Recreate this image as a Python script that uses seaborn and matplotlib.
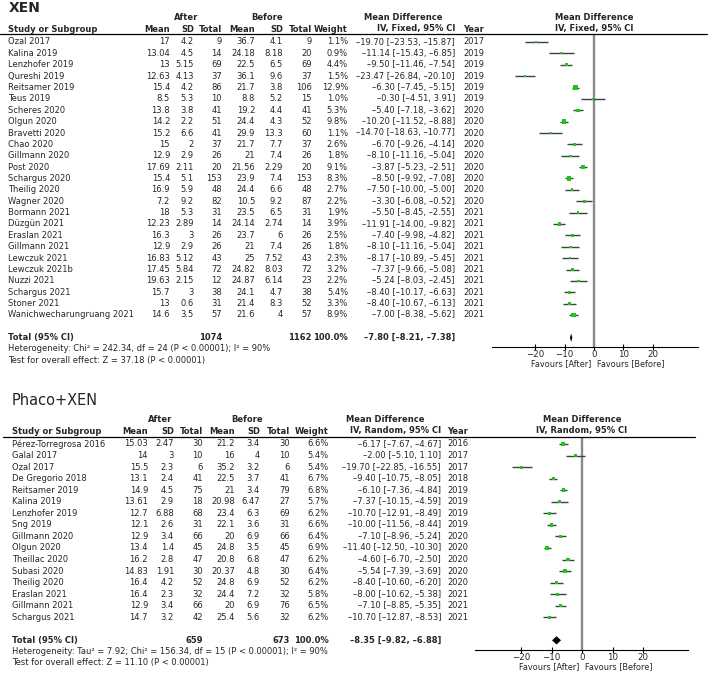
"""
Forest plots: IOP after vs before XEN implantation (XEN alone, Phaco+XEN).
Saves out.png (708x674 px).
"""

import numpy as np
import pandas as pd
import matplotlib
matplotlib.use("Agg")
import matplotlib.pyplot as plt
import matplotlib.transforms as mtransforms
from matplotlib.lines import Line2D
import seaborn as sns

W_PX, H_PX = 708, 674

# -- colours / fonts -----------------------------------------------------------
C_GREEN = "#1fc41f"
C_CI    = "#404040"
C_ZERO  = "#8a8a8a"
FS      = 6.0

sns.set_style("white")
plt.rcParams["font.family"] = ["DejaVu Sans"]

TICKS = [-20, -10, 0, 10, 20]

# -- XEN data -----------------------------------------------------------------
xen_study = ["Ozal 2017", "Kalina 2019", "Lenzhofer 2019", "Qureshi 2019", "Reitsamer 2019",
             "Teus 2019", "Scheres 2020", "Olgun 2020", "Bravetti 2020", "Chao 2020",
             "Gillmann 2020", "Post 2020", "Schargus 2020", "Theilig 2020", "Wagner 2020",
             "Bormann 2021", "Düzgün 2021", "Eraslan 2021", "Gillmann 2021", "Lewczuk 2021",
             "Lewczuk 2021b", "Nuzzi 2021", "Schargus 2021", "Stoner 2021",
             "Wanichwecharungruang 2021"]
xen_after_mean = [17, 13.04, 13, 12.63, 15.4, 8.5, 13.8, 14.2, 15.2, 15, 12.9, 17.69, 15.4,
                  16.9, 7.2, 18, 12.23, 16.3, 12.9, 16.83, 17.45, 19.63, 15.7, 13, 14.6]
xen_after_sd = [4.2, 4.5, 5.15, 4.13, 4.2, 5.3, 3.8, 2.2, 6.6, 2, 2.9, 2.11, 5.1,
                5.9, 9.2, 5.3, 2.89, 3, 2.9, 5.12, 5.84, 2.15, 3, 0.6, 3.5]
xen_after_n = [9, 14, 69, 37, 86, 10, 41, 51, 41, 37, 26, 20, 153, 48, 82, 31, 14, 26, 26,
               43, 72, 12, 38, 31, 57]
xen_before_mean = [36.7, 24.18, 22.5, 36.1, 21.7, 8.8, 19.2, 24.4, 29.9, 21.7, 21, 21.56, 23.9,
                   24.4, 10.5, 23.5, 24.14, 23.7, 21, 25, 24.82, 24.87, 24.1, 21.4, 21.6]
xen_before_sd = [4.1, 8.18, 6.5, 9.6, 3.8, 5.2, 4.4, 4.3, 13.3, 7.7, 7.4, 2.29, 7.4,
                 6.6, 9.2, 6.5, 2.74, 6, 7.4, 7.52, 8.03, 6.14, 4.7, 8.3, 4]
xen_before_n = [9, 20, 69, 37, 106, 15, 41, 52, 60, 37, 26, 20, 153, 48, 87, 31, 14, 26, 26,
                43, 72, 23, 38, 52, 57]
xen_weight = [1.1, 0.9, 4.4, 1.5, 12.9, 1.0, 5.3, 9.8, 1.1, 2.6, 1.8, 9.1, 8.3, 2.7, 2.2,
              1.9, 3.9, 2.5, 1.8, 2.3, 3.2, 2.2, 5.4, 3.3, 8.9]
xen_md = [-19.70, -11.14, -9.50, -23.47, -6.30, -0.30, -5.40, -10.20, -14.70, -6.70, -8.10,
          -3.87, -8.50, -7.50, -3.30, -5.50, -11.91, -7.40, -8.10, -8.17, -7.37, -5.24,
          -8.40, -8.40, -7.00]
xen_lo = [-23.53, -15.43, -11.46, -26.84, -7.45, -4.51, -7.18, -11.52, -18.63, -9.26, -11.16,
          -5.23, -9.92, -10.00, -6.08, -8.45, -14.00, -9.98, -11.16, -10.89, -9.66, -8.03,
          -10.17, -10.67, -8.38]
xen_hi = [-15.87, -6.85, -7.54, -20.10, -5.15, 3.91, -3.62, -8.88, -10.77, -4.14, -5.04,
          -2.51, -7.08, -5.00, -0.52, -2.55, -9.82, -4.82, -5.04, -5.45, -5.08, -2.45,
          -6.63, -6.13, -5.62]
xen_year = [2017, 2019, 2019, 2019, 2019, 2019, 2020, 2020, 2020, 2020, 2020, 2020, 2020,
            2020, 2020, 2021, 2021, 2021, 2021, 2021, 2021, 2021, 2021, 2021, 2021]
xen_total = {"n1": 1074, "n2": 1162, "md": -7.80, "lo": -8.21, "hi": -7.38}
xen_het = "Heterogeneity: Chi² = 242.34, df = 24 (P < 0.00001); I² = 90%"
xen_test = "Test for overall effect: Z = 37.18 (P < 0.00001)"

# -- Phaco+XEN data -----------------------------------------------------------
phx_study = ["Pérez-Torregrosa 2016", "Galal 2017", "Ozal 2017", "De Gregorio 2018",
             "Reitsamer 2019", "Kalina 2019", "Lenzhofer 2019", "Sng 2019", "Gillmann 2020",
             "Olgun 2020", "Theillac 2020", "Subasi 2020", "Theilig 2020", "Eraslan 2021",
             "Gillmann 2021", "Schargus 2021"]
phx_after_mean = [15.03, 14, 15.5, 13.1, 14.9, 13.61, 12.7, 12.1, 12.9, 13.4, 16.2, 14.83,
                  16.4, 16.4, 12.9, 14.7]
phx_after_sd = [2.47, 3, 2.3, 2.4, 4.5, 2.9, 6.88, 2.6, 3.4, 1.4, 2.8, 1.91, 4.2, 2.3, 3.4, 3.2]
phx_after_n = [30, 10, 6, 41, 75, 18, 68, 31, 66, 45, 47, 30, 52, 32, 66, 42]
phx_before_mean = [21.2, 16, 35.2, 22.5, 21, 20.98, 23.4, 22.1, 20, 24.8, 20.8, 20.37,
                   24.8, 24.4, 20, 25.4]
phx_before_sd = [3.4, 4, 3.2, 3.7, 3.4, 6.47, 6.3, 3.6, 6.9, 3.5, 6.8, 4.8, 6.9, 7.2, 6.9, 5.6]
phx_before_n = [30, 10, 6, 41, 79, 27, 69, 31, 66, 45, 47, 30, 52, 32, 76, 32]
phx_weight = [6.6, 5.4, 5.4, 6.7, 6.8, 5.7, 6.2, 6.6, 6.4, 6.9, 6.2, 6.4, 6.2, 5.8, 6.5, 6.2]
phx_md = [-6.17, -2.00, -19.70, -9.40, -6.10, -7.37, -10.70, -10.00, -7.10, -11.40, -4.60,
          -5.54, -8.40, -8.00, -7.10, -10.70]
phx_lo = [-7.67, -5.10, -22.85, -10.75, -7.36, -10.15, -12.91, -11.56, -8.96, -12.50, -6.70,
          -7.39, -10.60, -10.62, -8.85, -12.87]
phx_hi = [-4.67, 1.10, -16.55, -8.05, -4.84, -4.59, -8.49, -8.44, -5.24, -10.30, -2.50,
          -3.69, -6.20, -5.38, -5.35, -8.53]
phx_year = [2016, 2017, 2017, 2018, 2019, 2019, 2019, 2019, 2020, 2020, 2020, 2020, 2020,
            2021, 2021, 2021]
phx_total = {"n1": 659, "n2": 673, "md": -8.35, "lo": -9.82, "hi": -6.88}
phx_het = "Heterogeneity: Tau² = 7.92; Chi² = 156.34, df = 15 (P < 0.00001); I² = 90%"
phx_test = "Test for overall effect: Z = 11.10 (P < 0.00001)"


# -----------------------------------------------------------------------------
def fx(px):
    return px / W_PX


def fy(py):
    return 1 - py / H_PX


def fmt_md(m, lo, hi):
    return f"{m:.2f} [{lo:.2f}, {hi:.2f}]".replace("-", "\u2013")


def build_df(study, m1, s1, n1, m2, s2, n2, w, md, lo, hi, yr):
    return pd.DataFrame({"study": study, "m1": m1, "s1": s1, "n1": n1, "m2": m2, "s2": s2,
                         "n2": n2, "weight": w, "md": md, "lo": lo, "hi": hi, "year": yr})


# -----------------------------------------------------------------------------
def draw_panel(fig, df, total, p):
    left, top, right, bottom = p["box"]
    ax = fig.add_axes([fx(left), fy(bottom), (right - left) / W_PX, (bottom - top) / H_PX])
    n = len(df)
    df = df.assign(row=np.arange(n))

    # forest marks
    ax.axvline(0, color=C_ZERO, lw=1.7, zorder=1)
    ax.hlines(df["row"], df["lo"], df["hi"], color=C_CI, lw=1.0, zorder=2)
    sns.scatterplot(data=df, x="md", y="row", size="weight", sizes=p["sizes"],
                    size_norm=(df["weight"].min(), df["weight"].max()),
                    marker="s", color=C_GREEN, linewidth=0, legend=False, ax=ax, zorder=3)
    t_row = n + 1
    h = 0.36
    ax.fill([total["lo"], total["md"], total["hi"], total["md"]],
            [t_row, t_row - h, t_row, t_row + h], color="black", lw=0, zorder=4)

    ax.set_xlim((left - p["zero"]) / p["scale"], (right - p["zero"]) / p["scale"])
    ax.set_ylim((bottom - p["row0"]) / p["step"], (top - p["row0"]) / p["step"])
    ax.set_xlabel("")
    ax.set_ylabel("")
    ax.set_xticks(TICKS)
    ax.set_yticks([])
    sns.despine(ax=ax, left=True)
    ax.spines["bottom"].set_color("black")
    ax.spines["bottom"].set_linewidth(0.8)
    ax.tick_params(axis="x", bottom=True, direction="inout", length=4, width=0.8,
                   color="black", labelsize=6.2, pad=0.3)
    ax.set_facecolor("none")

    for x, s, ha in [(-0.9, "Favours [After]", "right"), (0.9, "Favours [Before]", "left")]:
        ax.annotate(s, xy=(x, 0), xycoords=("data", "axes fraction"), xytext=(0, -12.3),
                    textcoords="offset points", ha=ha, va="center", fontsize=5.9)

    # header line across table + forest
    fig.add_artist(Line2D([fx(p["line_x"][0]), fx(p["line_x"][1])], [fy(top), fy(top)],
                          transform=fig.transFigure, color="black", lw=0.9))

    # titles and column headers
    c = p["cols"]
    fig.text(fx(p["title_xy"][0]), fy(p["title_xy"][1]), p["title"], ha="left", va="center",
             fontsize=p["title_fs"], fontweight=p["title_fw"])
    y1, y2 = p["hdr"]
    bold = dict(fontsize=FS, fontweight="bold", va="center")
    fig.text(fx(p["after_x"]), fy(y1), "After", ha="center", **bold)
    fig.text(fx(p["before_x"]), fy(y1), "Before", ha="center", **bold)
    fig.text(fx(p["mdhdr_x"]), fy(y1), "Mean Difference", ha="center", **bold)
    fig.text(fx(p["zero"]), fy(y1), "Mean Difference", ha="center", **bold)
    fig.text(fx(p["zero"]), fy(y2), p["method"], ha="center", **bold)
    fig.text(fx(c["study"]), fy(y2), "Study or Subgroup", ha="left", **bold)
    for key, lab in [("m1", "Mean"), ("s1", "SD"), ("n1", "Total"), ("m2", "Mean"),
                     ("s2", "SD"), ("n2", "Total"), ("w", "Weight"), ("md", p["method"])]:
        fig.text(fx(c[key]), fy(y2), lab, ha="right", **bold)
    fig.text(fx(c["year"]), fy(y2), "Year", ha="left", **bold)

    # study rows, aligned to the forest rows
    trans = mtransforms.blended_transform_factory(fig.transFigure, ax.transData)
    reg = dict(fontsize=FS, va="center", transform=trans)
    for r in df.itertuples():
        fig.text(fx(c["study"]), r.row, r.study, ha="left", **reg)
        fig.text(fx(c["m1"]), r.row, f"{r.m1:g}", ha="right", **reg)
        fig.text(fx(c["s1"]), r.row, f"{r.s1:g}", ha="right", **reg)
        fig.text(fx(c["n1"]), r.row, f"{r.n1}", ha="right", **reg)
        fig.text(fx(c["m2"]), r.row, f"{r.m2:g}", ha="right", **reg)
        fig.text(fx(c["s2"]), r.row, f"{r.s2:g}", ha="right", **reg)
        fig.text(fx(c["n2"]), r.row, f"{r.n2}", ha="right", **reg)
        fig.text(fx(c["w"]), r.row, f"{r.weight:.1f}%", ha="right", **reg)
        fig.text(fx(c["md"]), r.row, fmt_md(r.md, r.lo, r.hi), ha="right", **reg)
        fig.text(fx(c["year"]), r.row, f"{r.year}", ha="left", **reg)

    # total row
    regb = dict(reg, fontweight="bold")
    fig.text(fx(c["study"]), t_row, "Total (95% CI)", ha="left", **regb)
    fig.text(fx(c["n1"]), t_row, f"{total['n1']}", ha="right", **regb)
    fig.text(fx(c["n2"]), t_row, f"{total['n2']}", ha="right", **regb)
    fig.text(fx(c["w"]), t_row, "100.0%", ha="right", **regb)
    fig.text(fx(c["md"]), t_row, fmt_md(total["md"], total["lo"], total["hi"]), ha="right", **regb)

    fig.text(fx(c["study"]), fy(p["foot"][0]), p["het"], ha="left", va="center", fontsize=FS)
    fig.text(fx(c["study"]), fy(p["foot"][1]), p["test"], ha="left", va="center", fontsize=FS)
    return ax


# -----------------------------------------------------------------------------
XEN_LAYOUT = {
    "box": (492, 34, 698, 347), "zero": 594, "scale": 2.93, "row0": 42, "step": 11.375,
    "sizes": (2.5, 12), "line_x": (0, 707),
    "title": "XEN", "title_xy": (9, 8.5), "title_fs": 10, "title_fw": "bold",
    "hdr": (17, 29), "after_x": 186, "before_x": 267, "mdhdr_x": 403,
    "method": "IV, Fixed, 95% CI",
    "cols": {"study": 8, "m1": 170, "s1": 194, "n1": 222, "m2": 255, "s2": 283,
             "n2": 312, "w": 348, "md": 455, "year": 463},
    "het": xen_het, "test": xen_test, "foot": (349, 360),
}

PHX_LAYOUT = {
    "box": (475, 437, 688, 650), "zero": 582, "scale": 3.05, "row0": 444, "step": 11.55,
    "sizes": (4.5, 6.5), "line_x": (3, 695),
    "title": "Phaco+XEN", "title_xy": (12, 400.5), "title_fs": 10.5, "title_fw": "normal",
    "hdr": (420, 431), "after_x": 160, "before_x": 247, "mdhdr_x": 385,
    "method": "IV, Random, 95% CI",
    "cols": {"study": 12, "m1": 148, "s1": 174, "n1": 203, "m2": 235, "s2": 260,
             "n2": 290, "w": 329, "md": 441, "year": 447},
    "het": phx_het, "test": phx_test, "foot": (652, 663),
}


def main():
    fig = plt.figure(figsize=(W_PX / 100, H_PX / 100), dpi=100)
    fig.patch.set_facecolor("white")

    xen_df = build_df(xen_study, xen_after_mean, xen_after_sd, xen_after_n, xen_before_mean,
                      xen_before_sd, xen_before_n, xen_weight, xen_md, xen_lo, xen_hi, xen_year)
    phx_df = build_df(phx_study, phx_after_mean, phx_after_sd, phx_after_n, phx_before_mean,
                      phx_before_sd, phx_before_n, phx_weight, phx_md, phx_lo, phx_hi, phx_year)

    draw_panel(fig, xen_df, xen_total, XEN_LAYOUT)
    draw_panel(fig, phx_df, phx_total, PHX_LAYOUT)

    fig.savefig("out.png", dpi=100)
    plt.close(fig)


if __name__ == "__main__":
    main()
